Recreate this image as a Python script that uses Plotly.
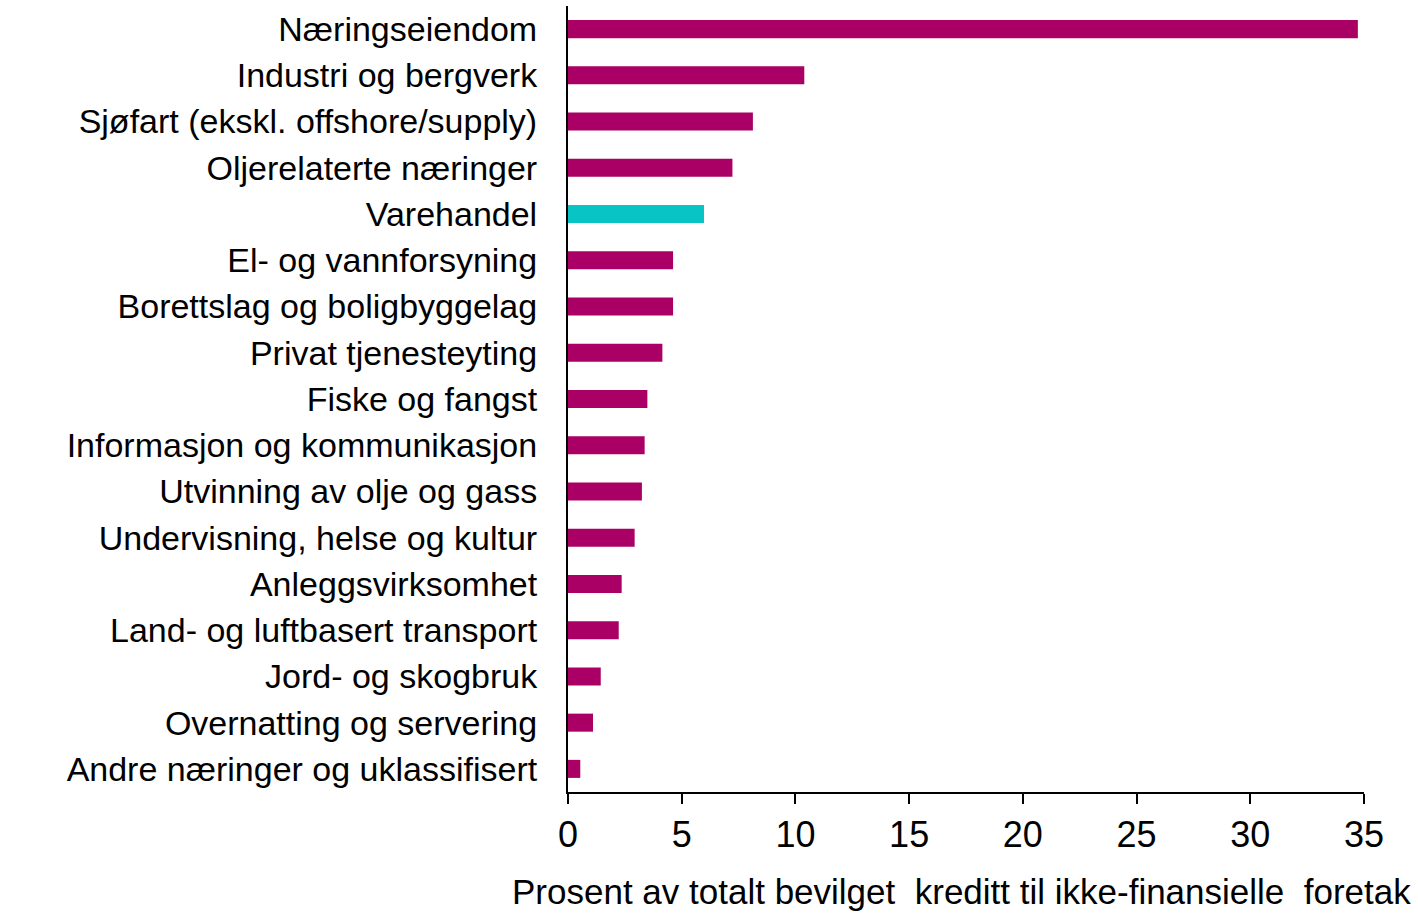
import plotly.graph_objects as go

categories = [
    "Næringseiendom",
    "Industri og bergverk",
    "Sjøfart (ekskl. offshore/supply)",
    "Oljerelaterte næringer",
    "Varehandel",
    "El- og vannforsyning",
    "Borettslag og boligbyggelag",
    "Privat tjenesteyting",
    "Fiske og fangst",
    "Informasjon og kommunikasjon",
    "Utvinning av olje og gass",
    "Undervisning, helse og kultur",
    "Anleggsvirksomhet",
    "Land- og luftbasert transport",
    "Jord- og skogbruk",
    "Overnatting og servering",
    "Andre næringer og uklassifisert",
]
values = [34.73, 10.39, 8.13, 7.23, 5.98, 4.62, 4.62, 4.15, 3.49, 3.37, 3.25,
          2.93, 2.36, 2.23, 1.44, 1.10, 0.54]
highlight = "Varehandel"
x_ticks = [0, 5, 10, 15, 20, 25, 30, 35]
x_title = "Prosent av totalt bevilget  kreditt til ikke-finansielle  foretak"

MAGENTA = "#AA0066"
CYAN = "#08C4C4"
colors = [CYAN if c == highlight else MAGENTA for c in categories]

FONT = "Liberation Sans, Arial, sans-serif"

fig = go.Figure(
    go.Bar(
        x=values,
        y=categories,
        orientation="h",
        marker=dict(color=colors, line=dict(width=0)),
    )
)

fig.update_layout(
    width=1418,
    height=914,
    margin=dict(l=568, r=54, t=6, b=122),
    plot_bgcolor="white",
    paper_bgcolor="white",
    bargap=0.61,
    showlegend=False,
    font=dict(family=FONT, color="black"),
)

fig.update_xaxes(
    range=[0, 35],
    tickvals=x_ticks,
    ticktext=[str(t) for t in x_ticks],
    ticks="outside",
    ticklen=10,
    tickwidth=2,
    tickcolor="black",
    showline=True,
    linecolor="black",
    linewidth=2,
    showgrid=False,
    zeroline=False,
    tickfont=dict(size=36, family=FONT, color="black"),
)

fig.update_yaxes(
    categoryorder="array",
    categoryarray=categories,
    autorange="reversed",
    showline=True,
    linecolor="black",
    linewidth=2,
    showgrid=False,
    ticks="",
    ticklabelstandoff=22,
    tickfont=dict(size=34, family=FONT, color="black"),
)

fig.add_annotation(
    text=x_title,
    xref="paper",
    yref="paper",
    x=(1413 - 568) / 796,
    y=-(891 - 792) / 786,
    xanchor="right",
    yanchor="middle",
    showarrow=False,
    font=dict(size=35, family=FONT, color="black"),
)

fig.write_html("out.html", config={"displayModeBar": False})

# remove default page margin so the figure sits at the window's top-left corner
with open("out.html", "r", encoding="utf-8") as f:
    html = f.read()
html = html.replace("<body>", '<body style="margin:0;padding:0;">', 1)
with open("out.html", "w", encoding="utf-8") as f:
    f.write(html)
